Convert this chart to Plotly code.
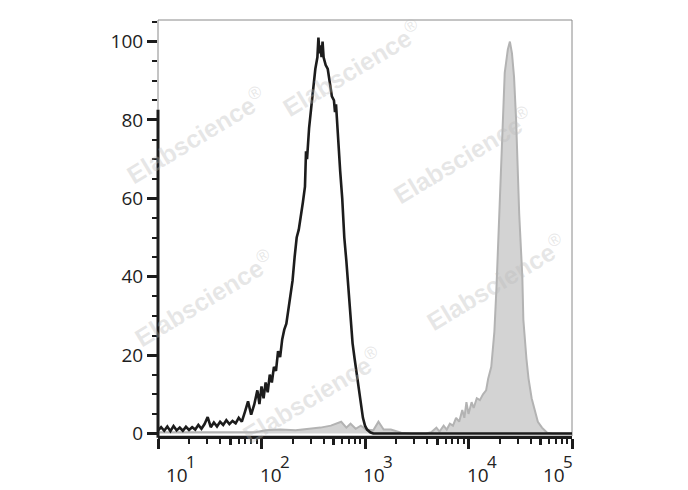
import plotly.graph_objects as go

# ---- data (log10 of fluorescence, % of max) ----
black_log = [1.00,1.03,1.06,1.09,1.12,1.15,1.18,1.21,1.24,1.27,1.30,1.33,1.36,1.39,1.42,1.45,1.48,1.51,1.54,1.57,
             1.60,1.63,1.66,1.69,1.72,1.75,1.78,1.81,1.84,1.87,1.90,1.93,1.96,
             1.98,2.00,2.02,2.04,2.06,2.08,2.10,2.12,2.14,2.16,2.18,2.20,2.22,2.24,2.26,2.28,2.30,2.32,2.34,2.36,2.38,2.40,2.42,
             2.43,2.44,2.46,2.48,2.50,2.52,2.54,2.55,2.56,2.57,2.58,2.59,2.60,2.62,2.64,2.66,2.68,2.70,2.71,
             2.72,2.74,2.76,2.78,2.80,2.82,2.84,2.86,2.88,2.90,2.92,2.94,2.96,2.98,3.00,3.02,
             3.05,3.08,3.50,4.00,4.50,5.00]
black_count = [0.8,1.6,0.7,1.8,0.6,1.9,0.8,1.5,0.7,1.7,0.9,1.6,1.0,2.2,1.2,2.4,4.2,1.6,2.8,1.8,
               3.0,2.2,3.4,2.4,3.2,2.6,4.0,3.0,5.5,8.2,4.8,7.4,11.0,
               7.5,12.0,9.0,13.0,10.5,15.0,13.0,17.0,16.0,21.0,19.5,24.0,26.5,28.0,32.0,35.0,39.0,45.0,50.0,52.0,55.0,59.0,63.0,
               72.0,70.0,78.0,83.0,88.0,93.0,96.0,101.0,97.0,99.0,96.0,100.0,96.0,94.0,93.0,89.0,86.0,85.0,82.0,
               84.0,74.0,67.0,60.0,50.0,44.0,37.0,30.0,23.0,19.0,15.0,12.0,7.0,4.0,2.0,1.0,
               0.3,0.0,0.0,0.0,0.0,0.0]

gray_log = [1.00,1.94,2.04,2.18,2.33,2.48,2.57,2.67,2.77,2.82,2.86,2.91,2.96,3.01,3.08,3.13,3.18,3.25,3.30,3.35,
            3.45,3.59,3.64,3.69,3.72,3.76,3.79,3.82,3.85,3.88,3.91,3.94,3.96,3.98,4.00,4.03,4.05,4.08,4.11,4.14,
            4.17,4.19,4.22,4.25,4.27,4.30,4.32,4.35,4.38,4.40,4.42,4.44,4.46,4.49,4.52,4.53,4.56,4.58,4.61,4.64,
            4.67,4.71,4.76,4.81,5.00]
gray_count = [0.3,0.3,0.8,1.0,0.8,1.2,1.5,2.0,3.0,1.5,2.5,1.2,2.0,1.0,0.8,3.0,1.0,1.0,0.5,0.2,
              0,0,0.3,1.5,0.5,2.0,1.0,2.5,2.0,4.0,3.0,6,4,8,5,8,6.5,9,8.5,10,
              11,14,17,26,37,57,72,92,98,100,97,91,80,56,40,29,19,14,9,6,
              3,1.5,0.2,0,0]

y_ticks = [0, 20, 40, 60, 80, 100]
decade_exponents = [1, 2, 3, 4, 5]
mid_ticks = [50, 500, 5000, 50000]

# ---- figure ----
black_x = [10 ** v for v in black_log]
gray_x = [10 ** v for v in gray_log]
decades = [10 ** e for e in decade_exponents]
minor_x = [m * 10 ** d for d in range(1, 5) for m in (2, 3, 4, 6, 7, 8, 9)]

fig = go.Figure()
fig.add_trace(go.Scatter(x=gray_x, y=gray_count, mode="lines", fill="tozeroy",
                         fillcolor="#d3d3d3", line=dict(color="#b3b3b3", width=2),
                         showlegend=False, hoverinfo="skip"))
fig.add_trace(go.Scatter(x=black_x, y=black_count, mode="lines",
                         line=dict(color="#1c1c1c", width=2.6),
                         showlegend=False, hoverinfo="skip"))
fig.add_trace(go.Scatter(x=[decades[0], decades[-1]], y=[None, None], xaxis="x2",
                         showlegend=False, hoverinfo="skip"))

tick_color = "#1c1c1c"
fig.update_layout(
    width=680, height=482,
    margin=dict(l=150, r=116, t=12, b=54),
    paper_bgcolor="white", plot_bgcolor="white",
    font=dict(family="Open Sans", size=19, color="#222222"),
    xaxis=dict(type="log", range=[1, 5], showgrid=False, zeroline=False,
               showline=True, linecolor=tick_color, linewidth=3,
               tickmode="array", tickvals=decades, showticklabels=False,
               ticks="outside", ticklen=10, tickwidth=3, tickcolor=tick_color,
               minor=dict(tickmode="array", tickvals=minor_x, ticks="outside",
                          ticklen=5, tickwidth=2, tickcolor=tick_color)),
    xaxis2=dict(type="log", range=[1, 5], overlaying="x", anchor="y", side="bottom",
                showgrid=False, zeroline=False, showline=False,
                tickmode="array", tickvals=mid_ticks, showticklabels=False,
                ticks="outside", ticklen=8, tickwidth=2.5, tickcolor=tick_color),
    yaxis=dict(range=[-0.64, 105.5], showgrid=False, zeroline=False, showline=False,
               tickmode="array", tickvals=y_ticks,
               ticks="outside", ticklen=10, tickwidth=3, tickcolor=tick_color,
               tickfont=dict(size=19, color="#1e1e1e"),
               minor=dict(dtick=5, ticks="outside", ticklen=5, tickwidth=2, tickcolor=tick_color)),
)

# frame: thin grey box, thick black left axis (lower part)
fig.add_shape(type="rect", xref="paper", yref="paper", x0=0, x1=1, y0=0, y1=1,
              line=dict(color="#8a8a8a", width=1), layer="below")
fig.add_shape(type="line", xref="paper", yref="paper", x0=0, x1=0, y0=-0.004, y1=0.784,
              line=dict(color=tick_color, width=3), layer="above")

# x tick labels 10^n
label_shifts = [8, -2, -2, -2, -29]
for e, dx in zip(decade_exponents, label_shifts):
    fig.add_annotation(x=e, xref="x", y=0, yref="paper", text="10", showarrow=False,
                       xanchor="left", yanchor="top", xshift=dx - 2, yshift=-24,
                       font=dict(size=19, color="#222222"))
    fig.add_annotation(x=e, xref="x", y=0, yref="paper", text=str(e), showarrow=False,
                       xanchor="left", yanchor="top", xshift=dx + 18, yshift=-12,
                       font=dict(size=17, color="#222222"))

# watermarks
wm = [(0.468, 0.885), (0.092, 0.724), (0.737, 0.675), (0.111, 0.332), (0.816, 0.370), (0.372, 0.099)]
for wx, wy in wm:
    fig.add_annotation(x=wx, y=wy, xref="paper", yref="paper", showarrow=False,
                       xanchor="center", yanchor="middle",
                       text="<b>Elabscience</b><sup>®</sup>", textangle=-31,
                       font=dict(family="Liberation Sans", size=25, color="rgba(185,185,185,0.35)"))

fig.write_html("out.html")
